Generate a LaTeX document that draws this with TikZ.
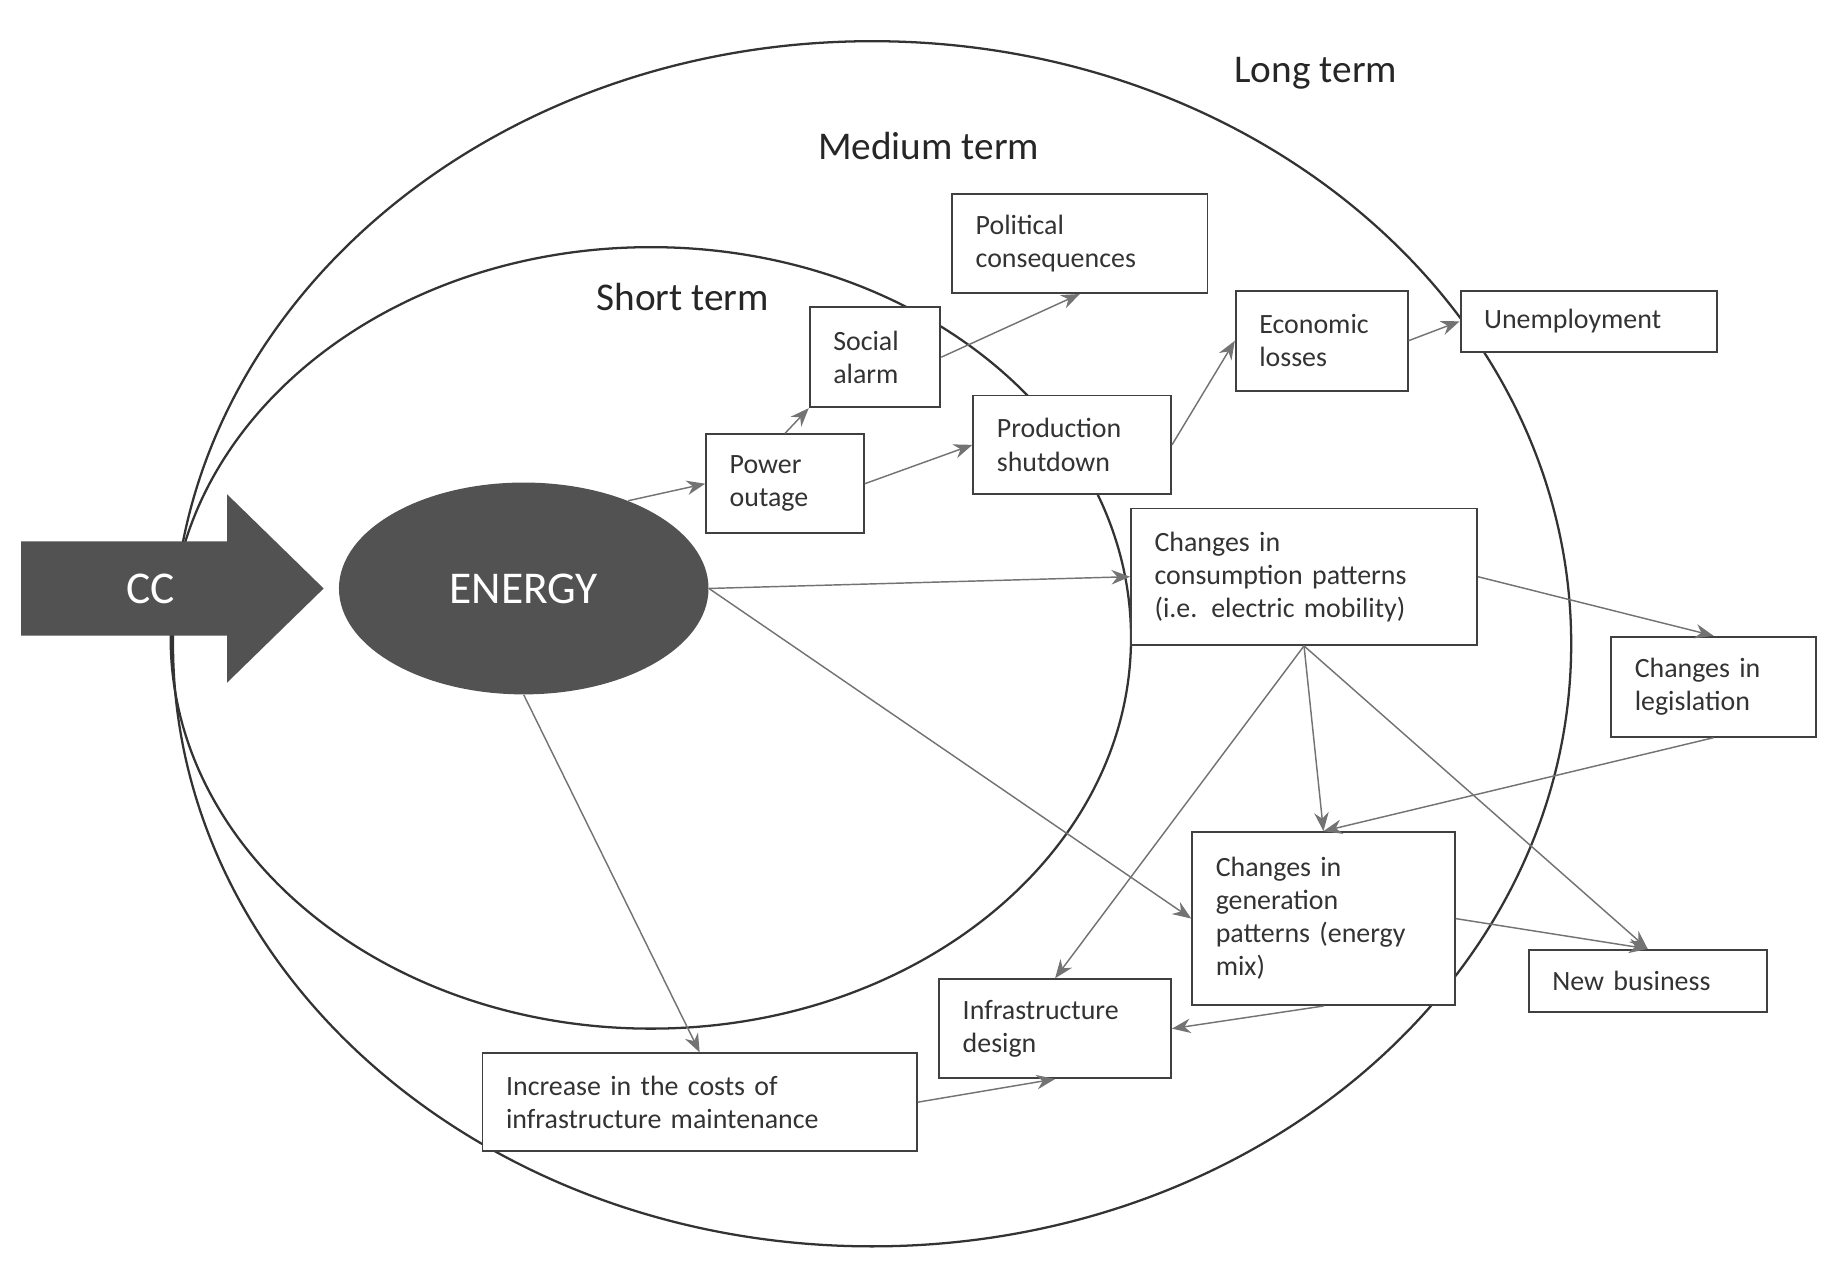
\documentclass[tikz,border=0pt]{standalone}
\usepackage{fontspec}
\setmainfont{Carlito}
\usetikzlibrary{arrows.meta,shapes.geometric}
\begin{document}
\begin{tikzpicture}[x=0.02cm,y=-0.02cm,
  box/.style={draw=black!75,line width=0.9pt,fill=white,align=left,inner xsep=0.4cm,inner ysep=2pt,
    font=\fontsize{13.5}{16}\selectfont\color{black!80}},
  arr/.style={draw=black!55,line width=0.7pt,-{Stealth[length=9pt,width=7pt]}},
  ring/.style={draw=black!80,line width=1.1pt},
  lab/.style={font=\fontsize{19}{22}\selectfont,text=black!85}]
\useasboundingbox (0,0) rectangle (1560,1078);
\draw[ring] (741,547) ellipse [x radius=594, y radius=512];
\draw[ring] (553,542) ellipse [x radius=408, y radius=332];
\node[lab] (lt) at (1118,62) {Long term};
\node[lab] (mt) at (789,124) {Medium term};
\node[lab] (st) at (580,252) {Short term};
\fill[black!68] (18,460)--(193,460)--(193,420)--(275,500)--(193,580)--(193,540)--(18,540)--cycle;
\node[font=\fontsize{22}{26}\selectfont,text=white] (cc) at (128,500) {CC};
\node[ellipse,fill=black!68,minimum width=314*0.02cm,minimum height=180*0.02cm,inner sep=0,
  font=\fontsize{22}{26}\selectfont,text=white] (en) at (445,500) {ENERGY};
\node[box,text width=217*0.02cm-0.8cm,minimum height=84*0.02cm] (pc) at (917.5,207) {Political\\consequences};
\node[box,text width=111*0.02cm-0.8cm,minimum height=85*0.02cm] (sa) at (743.5,303.5) {Social\\alarm};
\node[box,text width=134*0.02cm-0.8cm,minimum height=84*0.02cm] (po) at (667,411) {Power\\outage};
\node[box,text width=168*0.02cm-0.8cm,minimum height=84*0.02cm] (ps) at (911,378) {Production\\shutdown};
\node[box,text width=146*0.02cm-0.8cm,minimum height=85*0.02cm] (el) at (1123,289.5) {Economic\\losses};
\node[box,text width=218*0.02cm-0.8cm,minimum height=52*0.02cm] (un) at (1350,273) {Unemployment};
\node[box,text width=294*0.02cm-0.8cm,minimum height=116*0.02cm] (cp) at (1108,490) {Changes in\\consumption patterns\\(i.e. electric mobility)};
\node[box,text width=174*0.02cm-0.8cm,minimum height=85*0.02cm] (cl) at (1456,583.5) {Changes in\\legislation};
\node[box,text width=223*0.02cm-0.8cm,minimum height=147*0.02cm] (cg) at (1124.5,780.5) {Changes in\\generation\\patterns (energy\\mix)};
\node[box,text width=202*0.02cm-0.8cm,minimum height=53*0.02cm] (nb) at (1400,833.5) {New business};
\node[box,text width=197*0.02cm-0.8cm,minimum height=84*0.02cm] (id) at (896.5,874) {Infrastructure\\design};
\node[box,text width=369*0.02cm-0.8cm,minimum height=83*0.02cm] (ic) at (594.5,936.5) {Increase in the costs of\\infrastructure maintenance};
\draw[arr] (en.40) -- (po.west);
\draw[arr] (po.north) -- (sa.south west);
\draw[arr] (sa.east) -- (pc.south);
\draw[arr] (po.east) -- (ps.west);
\draw[arr] (ps.east) -- (el.west);
\draw[arr] (el.east) -- (un.west);
\draw[arr] (en.east) -- (cp.west);
\draw[arr] (cp.east) -- (cl.north);
\draw[arr] (cp.south) -- (cg.north);
\draw[arr] (cp.south) -- (id.north);
\draw[arr] (cp.south) -- (nb.north);
\draw[arr] (cl.south) -- (cg.north);
\draw[arr] (cg.east) -- (nb.north);
\draw[arr] (cg.south) -- (id.east);
\draw[arr] (en.east) -- (cg.west);
\draw[arr] (en.south) -- (ic.north);
\draw[arr] (ic.east) -- (id.south);
\end{tikzpicture}
\end{document}
